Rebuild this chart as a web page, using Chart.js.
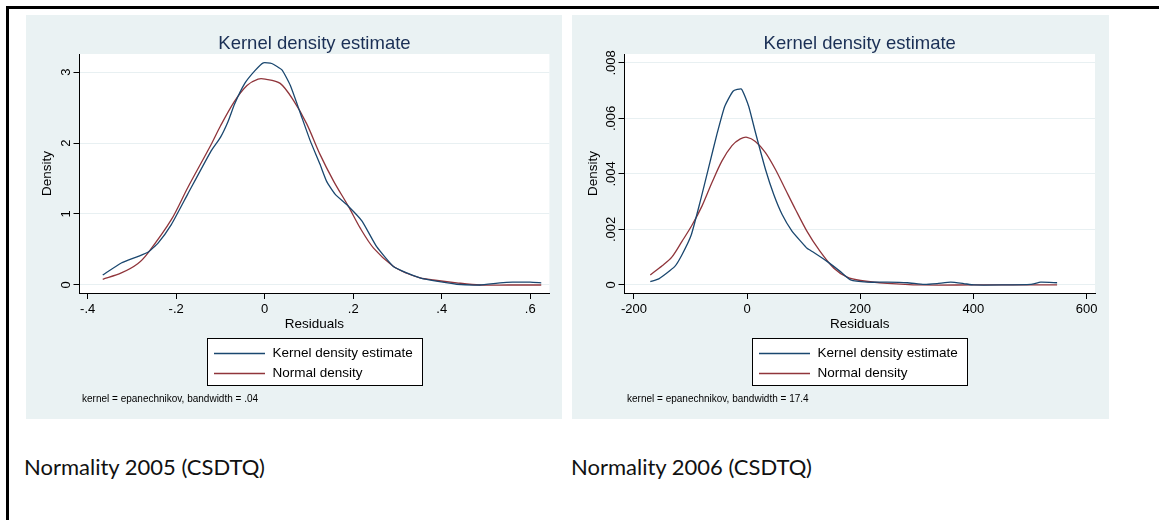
<!DOCTYPE html>
<html>
<head>
<meta charset="utf-8">
<script src="https://cdn.jsdelivr.net/npm/chart.js@4/dist/chart.umd.min.js"></script>
<style>
  body { margin: 0; background: #fff; width: 1159px; height: 520px; overflow: hidden; position: relative; }
  #frame { position: absolute; left: 6px; top: 6px; right: 0; bottom: 0; border-top: 3px solid #000; border-left: 3px solid #000; }
  canvas { position: absolute; background: #eaf2f3; }
  #kd2005 { left: 26px; top: 15px; }
  #kd2006 { left: 572px; top: 15px; }
  .caption { position: absolute; top: 453px; font-family: Lato, "Open Sans", sans-serif; font-size: 22px; color: #111; }
</style>
</head>
<body>
<div id="frame"></div>
<canvas id="kd2005" width="536" height="404"></canvas>
<canvas id="kd2006" width="537" height="404"></canvas>
<div class="caption" style="left:24px">Normality 2005 (CSDTQ)</div>
<div class="caption" style="left:571px">Normality 2006 (CSDTQ)</div>

<script>
// 2005 residuals: kernel density (epanechnikov) and fitted normal
var kernelX2005 = [-0.366, -0.324, -0.287, -0.264, -0.241, -0.211, -0.174, -0.121, -0.1, -0.083, -0.068, -0.045, -0.022, -0.003, 0.016, 0.039, 0.058, 0.08, 0.103, 0.125, 0.14, 0.159, 0.189, 0.22, 0.253, 0.291, 0.321, 0.351, 0.381, 0.434, 0.486, 0.532, 0.56, 0.6, 0.625];
var kernel2005  = [0.14, 0.31, 0.4, 0.46, 0.59, 0.85, 1.28, 1.89, 2.08, 2.3, 2.55, 2.84, 3.02, 3.13, 3.12, 3.03, 2.81, 2.43, 2.03, 1.7, 1.46, 1.28, 1.11, 0.9, 0.54, 0.26, 0.17, 0.1, 0.06, 0.01, 0.0, 0.03, 0.04, 0.04, 0.03];
var normalX2005 = [-0.366, -0.324, -0.287, -0.264, -0.211, -0.174, -0.121, -0.1, -0.069, -0.04, -0.015, 0.001, 0.035, 0.065, 0.095, 0.125, 0.156, 0.189, 0.216, 0.246, 0.291, 0.321, 0.351, 0.381, 0.434, 0.486, 0.55, 0.625];
var normal2005  = [0.08, 0.17, 0.3, 0.45, 0.92, 1.37, 1.98, 2.24, 2.58, 2.81, 2.9, 2.9, 2.84, 2.6, 2.27, 1.84, 1.46, 1.11, 0.8, 0.52, 0.26, 0.165, 0.1, 0.07, 0.03, 0.0, 0.0, 0.0];
var xTicks2005 = [-0.4, -0.2, 0, 0.2, 0.4, 0.6];
var xLabels2005 = ['-.4', '-.2', '0', '.2', '.4', '.6'];
var yTicks2005 = [0, 1, 2, 3];
var yLabels2005 = ['0', '1', '2', '3'];

// 2006 residuals
var kernelX2006 = [-171, -156, -128, -115, -98.5, -82.6, -67.9, -53.1, -39.5, -24.8, -10, 3, 14.75, 32.5, 47.2, 62, 79.7, 94.5, 106, 118, 142, 165, 183, 212, 248, 283, 313, 336, 360, 383, 401, 450, 501, 519, 548];
var kernel2006  = [0.00012, 0.00022, 0.00066, 0.00109, 0.00181, 0.00302, 0.00423, 0.00544, 0.00643, 0.00698, 0.00706, 0.00643, 0.0055, 0.00417, 0.00326, 0.00254, 0.00193, 0.00158, 0.00132, 0.00117, 0.00084, 0.00048, 0.00018, 0.0001, 0.0001, 0.00008, 0.00002, 0.00005, 0.0001, 0.00005, 0.0, 0.0, 0.00002, 0.0001, 0.00008];
var normalX2006 = [-171, -150, -133, -115, -97.4, -79.7, -62, -44.3, -26.6, -11.8, 0, 14.75, 32.5, 50, 67.9, 85.6, 106, 127, 153.5, 177, 200.7, 248, 307, 400, 548];
var normal2006  = [0.00036, 0.00069, 0.001, 0.00157, 0.00215, 0.00284, 0.00369, 0.00447, 0.00502, 0.00526, 0.00532, 0.00517, 0.00477, 0.00417, 0.00344, 0.00272, 0.00193, 0.00127, 0.0006, 0.00028, 0.00016, 0.00006, 0.0, 0.0, 0.0];
var xTicks2006 = [-200, 0, 200, 400, 600];
var xLabels2006 = ['-200', '0', '200', '400', '600'];
var yTicks2006 = [0, 0.002, 0.004, 0.006, 0.008];
var yLabels2006 = ['0', '.002', '.004', '.006', '.008'];

var seriesNames = ['Kernel density estimate', 'Normal density'];

var NAVY = '#1a476f';
var MAROON = '#90353b';
var GRID = '#e8f0f2';
var FONT = '"Liberation Sans", Arial, sans-serif';

function toPoints(xs, ys) {
    return xs.map(function(x, i) { return {x: x, y: ys[i]}; });
}

// white plot region, title, rotated y labels, boxed legend and kernel note
var stataFrame = {
    id: 'stataFrame',
    beforeDraw: function(chart) {
        var a = chart.chartArea;
        chart.ctx.save();
        chart.ctx.fillStyle = '#fff';
        chart.ctx.fillRect(a.left, a.top, a.right - a.left, a.bottom - a.top);
        chart.ctx.restore();
    },
    afterDraw: function(chart, args, opts) {
        var ctx = chart.ctx;
        var a = chart.chartArea;
        var cx = (a.left + a.right) / 2;
        ctx.save();

        // title
        ctx.fillStyle = '#1a2f55';
        ctx.font = '18.5px ' + FONT;
        ctx.textAlign = 'center';
        ctx.textBaseline = 'alphabetic';
        ctx.fillText(opts.title, cx, a.top - 5);

        // y tick labels, turned to read upwards
        var ys = chart.scales.y;
        ctx.fillStyle = '#000';
        ctx.font = '13px ' + FONT;
        ys.ticks.forEach(function(t, i) {
            ctx.save();
            ctx.translate(a.left - 10, ys.getPixelForValue(t.value));
            ctx.rotate(-Math.PI / 2);
            ctx.fillText(opts.yLabels[i], 0, 0);
            ctx.restore();
        });

        // legend
        var lw = 215, lh = 47;
        var lx = Math.round(cx - lw / 2) + 0.5, ly = Math.round(a.bottom + 45) + 0.5;
        ctx.fillStyle = '#fff';
        ctx.fillRect(lx, ly, lw, lh);
        ctx.strokeStyle = '#000';
        ctx.lineWidth = 1;
        ctx.strokeRect(lx, ly, lw, lh);
        ctx.textAlign = 'left';
        ctx.textBaseline = 'middle';
        ctx.font = '13.5px ' + FONT;
        chart.data.datasets.forEach(function(ds, i) {
            var ry = ly + 15 + i * 20;
            ctx.strokeStyle = ds.borderColor;
            ctx.lineWidth = 1.3;
            ctx.beginPath();
            ctx.moveTo(lx + 6.5, ry);
            ctx.lineTo(lx + 57.5, ry);
            ctx.stroke();
            ctx.fillStyle = '#000';
            ctx.fillText(ds.label, lx + 65, ry);
        });

        // kernel note
        ctx.font = '10px ' + FONT;
        ctx.fillText(opts.note, a.left + 2.5, a.bottom + 106);
        ctx.restore();
    }
};

function densityChart(id, d) {
    return new Chart(document.getElementById(id), {
        type: 'line',
        data: {
            datasets: [{
                label: seriesNames[0],
                data: toPoints(d.kx, d.ky),
                borderColor: NAVY,
                borderWidth: 1.3,
                pointRadius: 0,
                tension: 0.15
            }, {
                label: seriesNames[1],
                data: toPoints(d.nx, d.ny),
                borderColor: MAROON,
                borderWidth: 1.3,
                pointRadius: 0,
                tension: 0.3
            }]
        },
        options: {
            responsive: false,
            animation: false,
            devicePixelRatio: 1,
            layout: { padding: { left: 0, top: 39, right: d.padRight, bottom: 88 } },
            plugins: {
                legend: { display: false },
                tooltip: { enabled: false },
                stataFrame: { title: 'Kernel density estimate', note: d.note, yLabels: d.yLabels }
            },
            scales: {
                x: {
                    type: 'linear',
                    min: d.xMin,
                    max: d.xMax,
                    afterBuildTicks: function(s) { s.ticks = d.xTicks.map(function(v) { return {value: v}; }); },
                    afterFit: function(s) { s.height = 38; },
                    grid: { drawOnChartArea: false, tickLength: 6, tickColor: '#000' },
                    border: { color: '#000' },
                    ticks: {
                        autoSkip: false,
                        maxRotation: 0,
                        padding: 3,
                        color: '#000',
                        font: { family: FONT, size: 13 },
                        callback: function(v) { return d.xLabels[d.xTicks.indexOf(v)]; }
                    },
                    title: { display: true, text: 'Residuals', color: '#000', padding: 0, font: { family: FONT, size: 13.5, lineHeight: 1 } }
                },
                y: {
                    min: d.yMin,
                    max: d.yMax,
                    afterBuildTicks: function(s) { s.ticks = d.yTicks.map(function(v) { return {value: v}; }); },
                    afterFit: function(s) { s.width = d.yWidth; },
                    grid: { color: GRID, tickLength: 6, tickColor: '#000' },
                    border: { color: '#000' },
                    ticks: { display: false },
                    title: { display: true, text: 'Density', color: '#000', padding: { top: 15, bottom: 0 }, font: { family: FONT, size: 13.5, lineHeight: 1 } }
                }
            }
        },
        plugins: [stataFrame]
    });
}

densityChart('kd2005', {
    kx: kernelX2005, ky: kernel2005, nx: normalX2005, ny: normal2005,
    xTicks: xTicks2005, xLabels: xLabels2005, yTicks: yTicks2005, yLabels: yLabels2005,
    xMin: -0.4185, xMax: 0.6434, yMin: -0.113, yMax: 3.254,
    yWidth: 53.5, padRight: 12.6,
    note: 'kernel = epanechnikov, bandwidth = .04'
});

densityChart('kd2006', {
    kx: kernelX2006, ky: kernel2006, nx: normalX2006, ny: normal2006,
    xTicks: xTicks2006, xLabels: xLabels2006, yTicks: yTicks2006, yLabels: yLabels2006,
    xMin: -216.6, xMax: 615, yMin: -0.00029, yMax: 0.00832,
    yWidth: 52.5, padRight: 14,
    note: 'kernel = epanechnikov, bandwidth = 17.4'
});
</script>
</body>
</html>
